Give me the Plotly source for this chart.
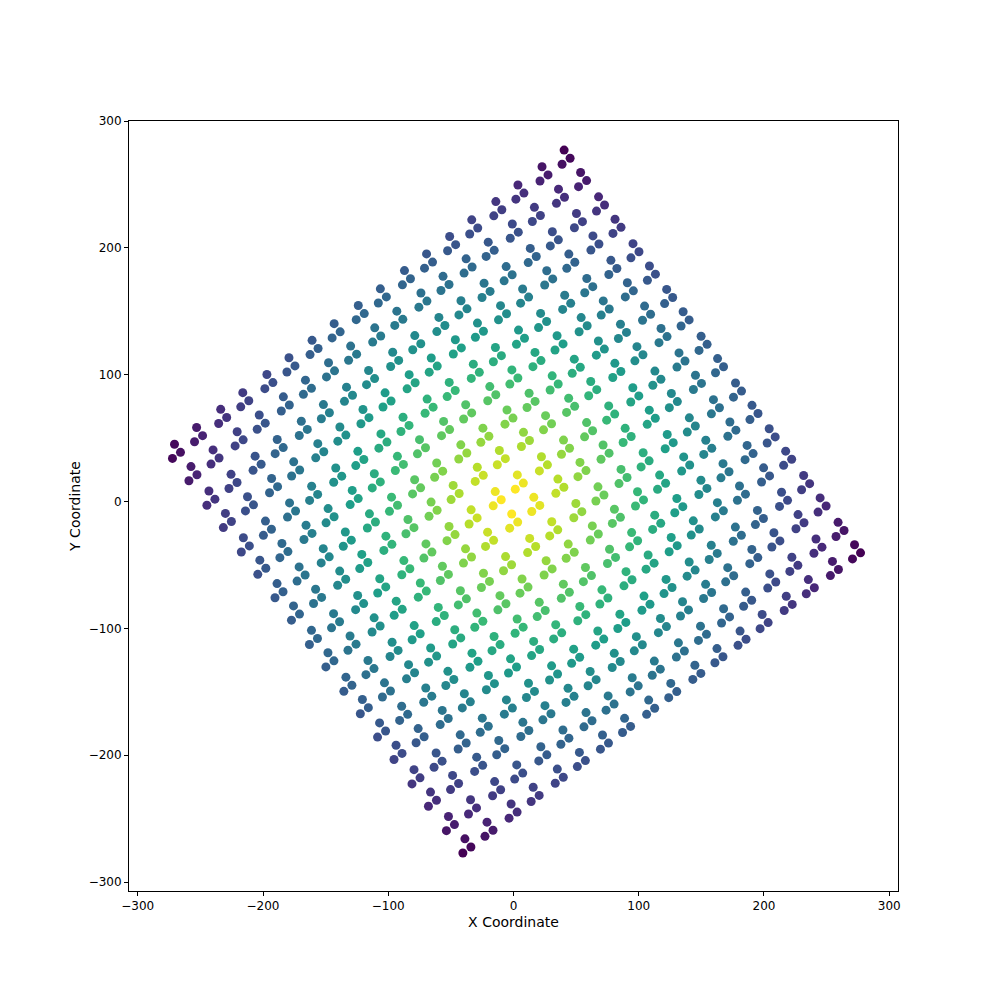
import numpy as np
import plotly.graph_objects as go

# values (rotated frame of the diamond)
angle_deg = 36.7                 # tilt of the diamond edges
top_offsets = [-137, 0, 137]     # large blocks along each edge
mid_offsets = [-46, 0, 46]       # blocks inside a large block
small_offsets = [-11, 11]        # 2x2 groups inside a mid block
motif_u = [-4, 4, 4]             # three-dot motif
motif_v = [-4, -4, 4]

us, vs = [], []
for a in top_offsets:
    for b in top_offsets:
        for c in mid_offsets:
            for d in mid_offsets:
                for e in small_offsets:
                    for f in small_offsets:
                        for mu, mv in zip(motif_u, motif_v):
                            us.append(a + c + e + mu)
                            vs.append(b + d + f + mv)
us = np.array(us)
vs = np.array(vs)
t = np.radians(angle_deg)
x = us * np.cos(t) - vs * np.sin(t)
y = us * np.sin(t) + vs * np.cos(t)
dist = np.hypot(x, y)

fig = go.Figure(go.Scatter(
    x=x, y=y, mode="markers",
    marker=dict(size=9, color=-dist, colorscale="Viridis", line=dict(width=0)),
    hoverinfo="skip",
))

axis_common = dict(showgrid=False, zeroline=False, showline=True, mirror=True,
                   linecolor="black", linewidth=1, ticks="outside", ticklen=4,
                   tickcolor="black", dtick=100, automargin=False,
                   tickfont=dict(size=12, color="black"))
fig.update_layout(
    width=1000, height=1000,
    margin=dict(l=121, r=110, t=113, b=117, autoexpand=False),
    plot_bgcolor="white", paper_bgcolor="white",
    font=dict(family="DejaVu Sans", size=12, color="black"),
    showlegend=False,
    xaxis=dict(title=dict(text="X Coordinate", standoff=4), range=[-307, 307], **axis_common),
    yaxis=dict(title=dict(text="Y Coordinate", standoff=4), range=[-307, 300], **axis_common),
)
fig.write_html("out.html")
